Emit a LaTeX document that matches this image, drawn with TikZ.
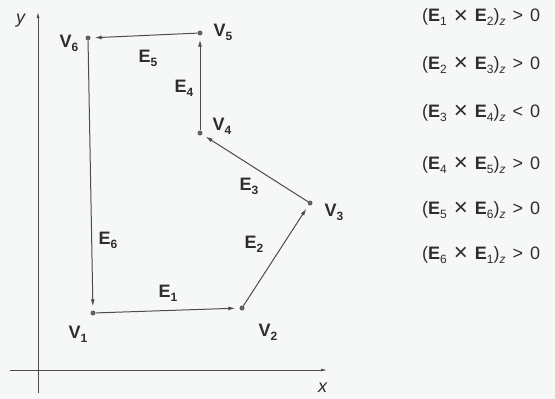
\documentclass[tikz,border=0pt]{standalone}
\usepackage{fontspec}
\setmainfont{Liberation Sans}
\usetikzlibrary{arrows.meta}
\definecolor{ink}{RGB}{45,45,45}
\definecolor{paper}{RGB}{246,248,247}
\newcommand{\idx}[1]{\raisebox{-4pt}{\fontsize{12}{12}\selectfont #1}}
\newcommand{\gap}{\hspace{7pt}}
\newcommand{\crossx}{\raisebox{-1.5pt}{\fontsize{24}{24}\selectfont ×}}
\tikzstyle{vertex} = [circle, fill=ink!75, minimum width=5pt, inner sep=0pt]
\tikzstyle{edge} = [draw=ink!85, line width=1pt, -{Latex[length=7pt,width=4pt]}, shorten >=4pt]
\tikzstyle{axis} = [draw=ink!85, line width=0.8pt, -{Latex[length=6pt,width=3pt]}]
\tikzstyle{lbl} = [text=ink, font=\fontsize{18}{18}\selectfont\bfseries, inner sep=0pt]
\tikzstyle{cond} = [text=ink, font=\fontsize{18}{18}\selectfont, anchor=west, inner sep=0pt]

\begin{document}
\begin{tikzpicture}[x=1pt, y=-1pt]
\useasboundingbox[fill=paper] (0,0) rectangle (555,399);
%axes
\coordinate (xo) at (10,370);
\coordinate (xe) at (327,370);
\coordinate (yo) at (38,393);
\coordinate (ye) at (38,12);
\draw[axis] (xo) -- (xe);
\draw[axis] (yo) -- (ye);
\node[lbl] (xl) at (323,388) {\mdseries\textit{x}};
\node[lbl] (yl) at (21,21) {\mdseries\textit{y}};
%vertices
\node[vertex] (v1) at (93,313) {};
\node[vertex] (v2) at (242,308) {};
\node[vertex] (v3) at (310,203) {};
\node[vertex] (v4) at (200,133) {};
\node[vertex] (v5) at (200,33) {};
\node[vertex] (v6) at (88,38) {};
\node[lbl] (lv1) at (78,334) {V\idx{1}};
\node[lbl] (lv2) at (268,332) {V\idx{2}};
\node[lbl] (lv3) at (334,212) {V\idx{3}};
\node[lbl] (lv4) at (222,126) {V\idx{4}};
\node[lbl] (lv5) at (223,32) {V\idx{5}};
\node[lbl] (lv6) at (69,43) {V\idx{6}};
%edges
\draw[edge] (v1) -- (v2);
\draw[edge] (v2) -- (v3);
\draw[edge] (v3) -- (v4);
\draw[edge] (v4) -- (v5);
\draw[edge] (v5) -- (v6);
\draw[edge] (v6) -- (v1);
\node[lbl] (e1) at (168,293) {E\idx{1}};
\node[lbl] (e2) at (254,244) {E\idx{2}};
\node[lbl] (e3) at (249,186) {E\idx{3}};
\node[lbl] (e4) at (184,88) {E\idx{4}};
\node[lbl] (e5) at (148,58) {E\idx{5}};
\node[lbl] (e6) at (108,240) {E\idx{6}};
%conditions
\node[cond] (c1) at (422,17) {(\textbf{E}\idx{1}\gap\crossx\gap\textbf{E}\idx{2})\idx{\textit{z}}\gap>\gap0};
\node[cond] (c2) at (422,65) {(\textbf{E}\idx{2}\gap\crossx\gap\textbf{E}\idx{3})\idx{\textit{z}}\gap>\gap0};
\node[cond] (c3) at (422,113) {(\textbf{E}\idx{3}\gap\crossx\gap\textbf{E}\idx{4})\idx{\textit{z}}\gap<\gap0};
\node[cond] (c4) at (422,165) {(\textbf{E}\idx{4}\gap\crossx\gap\textbf{E}\idx{5})\idx{\textit{z}}\gap>\gap0};
\node[cond] (c5) at (422,210) {(\textbf{E}\idx{5}\gap\crossx\gap\textbf{E}\idx{6})\idx{\textit{z}}\gap>\gap0};
\node[cond] (c6) at (422,255) {(\textbf{E}\idx{6}\gap\crossx\gap\textbf{E}\idx{1})\idx{\textit{z}}\gap>\gap0};
\end{tikzpicture}
\end{document}
